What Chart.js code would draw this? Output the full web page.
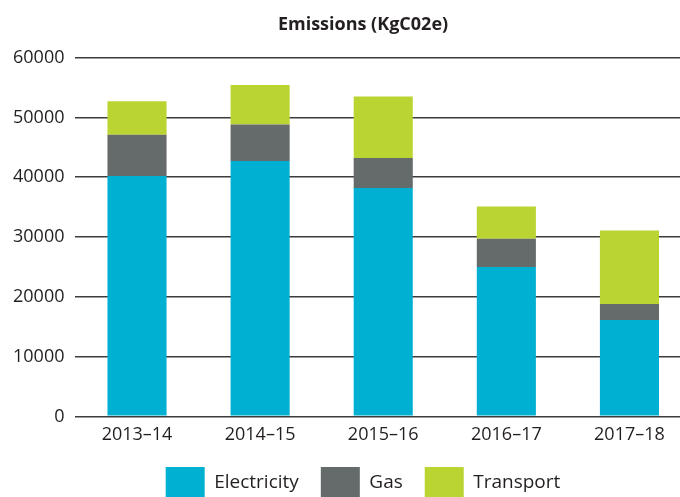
<!DOCTYPE html>
<html>
<head>
<meta charset="utf-8">
<script src="https://cdn.jsdelivr.net/npm/chart.js@4.4.1/dist/chart.umd.min.js"></script>
<style>
  html, body { margin: 0; padding: 0; overflow: hidden; background: #fff; }
  #wrap { width: 726px; height: 497px; position: relative; }
</style>
</head>
<body>
<div id="wrap"><canvas id="emissions-chart"></canvas></div>
<script>
// data
var years = ["2013–14", "2014–15", "2015–16", "2016–17", "2017–18"];
var electricity = [40200, 42700, 38200, 25000, 16100];
var gas = [6900, 6100, 5000, 4700, 2700];
var transport = [5600, 6600, 10300, 5400, 12300];
var yTicks = [0, 10000, 20000, 30000, 40000, 50000, 60000];

// title and legend in the original sit a bit right of the canvas centre
var shiftBlocks = {
    id: "shiftBlocks",
    afterLayout: function (chart) {
        chart.titleBlock.left += 33;
        chart.legend.left += 33;
    },
};

document.addEventListener("DOMContentLoaded", function () {
    var ctx = document.getElementById("emissions-chart").getContext("2d");
    var font = "'Open Sans', 'Noto Sans', sans-serif";
    var textColor = "#231f20";

    new Chart(ctx, {
        type: "bar",
        data: {
            labels: years,
            datasets: [
                { label: "Electricity", data: electricity, backgroundColor: "#00b0d3" },
                { label: "Gas", data: gas, backgroundColor: "#656a6a" },
                { label: "Transport", data: transport, backgroundColor: "#bad531" },
            ],
        },
        options: {
            responsive: true,
            maintainAspectRatio: false,
            animation: false,
            layout: { padding: { left: 2, right: 35, top: 0, bottom: -11 } },
            datasets: { bar: { categoryPercentage: 1, barPercentage: 0.48 } },
            scales: {
                x: {
                    stacked: true,
                    grid: { display: false, drawTicks: false },
                    border: { display: false },
                    ticks: { color: textColor, font: { family: font, size: 18 }, padding: 8 },
                    afterFit: function (axis) { axis.height -= 9; },
                },
                y: {
                    stacked: true,
                    min: 0,
                    max: 60000,
                    afterBuildTicks: function (axis) {
                        axis.ticks = yTicks.map(function (v) { return { value: v }; });
                    },
                    grid: { color: "#3c3c3c", lineWidth: 1.6, drawTicks: false },
                    border: { display: false },
                    ticks: {
                        color: textColor,
                        font: { family: font, size: 18 },
                        padding: 11,
                        callback: function (v) { return String(v); },
                    },
                },
            },
            plugins: {
                title: {
                    display: true,
                    text: "Emissions (KgC02e)",
                    color: textColor,
                    font: { family: font, size: 18, weight: "bold" },
                    padding: { top: 14, bottom: 22 },
                },
                legend: {
                    position: "bottom",
                    labels: {
                        color: textColor,
                        font: { family: font, size: 19 },
                        boxWidth: 39,
                        boxHeight: 31,
                        padding: 22,
                    },
                },
                tooltip: { enabled: false },
            },
        },
        plugins: [shiftBlocks],
    });
});
</script>
</body>
</html>
